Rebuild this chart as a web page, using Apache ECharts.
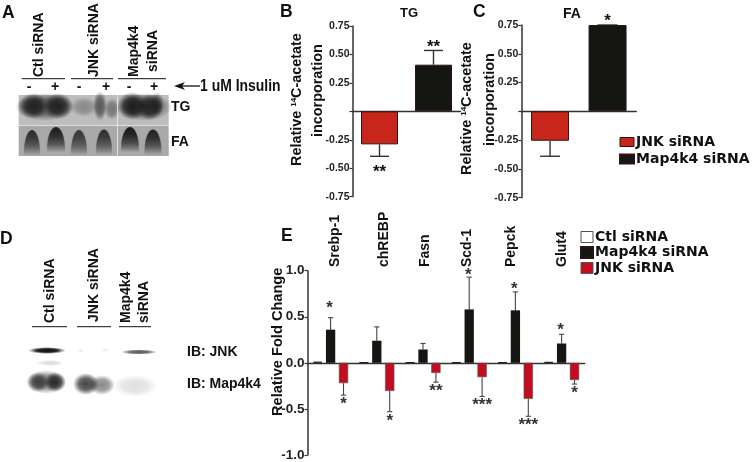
<!DOCTYPE html>
<html><head><meta charset="utf-8">
<style>html,body{margin:0;padding:0;background:#fff}#c{width:752px;height:462px}</style>
<script src="https://cdn.jsdelivr.net/npm/echarts@6/dist/echarts.min.js"></script>
</head><body><div id="c"></div>
<script>
// ---- data ----
const tgGroups = ['JNK siRNA', 'Map4k4 siRNA'];
const tgValues = [-0.29, 0.41];
const tgErrEnds = [-0.395, 0.535];
const tgStars = ['**', '**'];
const tgStarAt = [-0.51, 0.59];
const faGroups = ['JNK siRNA', 'Map4k4 siRNA'];
const faValues = [-0.255, 0.75];
const faErrEnds = [-0.39, 0.75];
const faStars = ['', '*'];
const faStarAt = [0, 0.81];
const genes = ['Srebp-1', 'chREBP', 'Fasn', 'Scd-1', 'Pepck', 'Glut4'];
const ctlValues = [0.012, 0.006, 0.006, 0.006, 0.004, 0.01];
const mapValues = [0.36, 0.24, 0.145, 0.58, 0.57, 0.21];
const mapErrEnds = [0.49, 0.39, 0.21, 0.93, 0.77, 0.31];
const mapStars = ['*', '', '', '*', '*', '*'];
const mapStarAt = [0.635, 0, 0, 0.99, 0.846, 0.4];
const jnkValues = [-0.22, -0.305, -0.11, -0.155, -0.39, -0.186];
const jnkErrEnds = [-0.35, -0.53, -0.21, -0.365, -0.58, -0.23];
const jnkStars = ['*', '*', '**', '***', '***', '*'];
const jnkStarAt = [-0.41, -0.59, -0.265, -0.42, -0.638, -0.283];

const BLACK = '#151512', RED_A = '#c8261b', RED_E = '#c20d20', BORDER = '#2a1512';
const FF = '"Liberation Sans", Arial, sans-serif';
const LEG = '"DejaVu Sans", sans-serif';
const E_BAR = 9.3, E_GAP = 3.6;

function errSeries(xIdx, yIdx, vals, ends, stars, starAt, opt) {
  const data = vals.map((v, i) => [i, v, ends[i], starAt[i], stars[i]]);
  return {
    type: 'custom', name: opt.name, xAxisIndex: xIdx, yAxisIndex: yIdx, silent: true, z: 1,
    data, encode: { x: 0, y: [1, 2, 3] }, clip: false,
    renderItem(params, api) {
      const i = api.value(0);
      const barPt = api.coord([i, api.value(1)]);
      const endPt = api.coord([i, api.value(2)]);
      const x = barPt[0] + opt.dx;
      const ln = { stroke: opt.color, lineWidth: opt.lw, fill: null };
      const children = [
        { type: 'line', shape: { x1: x, y1: barPt[1], x2: x, y2: endPt[1] }, style: ln },
        { type: 'line', shape: { x1: x - opt.cap, y1: endPt[1], x2: x + opt.cap, y2: endPt[1] }, style: ln }
      ];
      const s = stars[params.dataIndex];
      if (s) {
        const st = api.coord([i, api.value(3)]);
        children.push({ type: 'text', x: x + (opt.starDx || 0), y: st[1] + opt.starDy, style: {
          text: s, font: opt.starFont, fill: opt.starColor, align: 'center', verticalAlign: 'middle' } });
      }
      return { type: 'group', children };
    }
  };
}

function singleBar(name, xIdx, yIdx, vals, i, color, w) {
  return { type: 'bar', name, xAxisIndex: xIdx, yAxisIndex: yIdx, barWidth: w, barGap: '-100%',
    silent: true, z: 2,
    data: vals.map((v, k) => k === i ? v : null),
    itemStyle: { color, borderColor: BORDER, borderWidth: 1 } };
}

function yAxis(gridIndex, min, max, interval, fs, fmt) {
  return { type: 'value', gridIndex, min, max, interval, splitLine: { show: false },
    axisLine: { show: true, onZero: false, lineStyle: { color: '#333', width: 1.5 } },
    axisTick: { show: true, length: 3, lineStyle: { color: '#333', width: 1.2 } },
    axisLabel: { fontFamily: FF, fontWeight: 'bold', fontSize: fs, color: '#222', margin: 3, formatter: fmt,
      showMinLabel: true, showMaxLabel: true, hideOverlap: false } };
}
function xAxis(gridIndex, data) {
  return { type: 'category', gridIndex, data,
    axisLine: { show: true, onZero: true, lineStyle: { color: '#333', width: 1.4 } },
    axisTick: { show: false }, axisLabel: { show: false } };
}

// ---- decorations: text & blots ----
const g = [];
function txt(text, x, y, size, opt) {
  opt = opt || {};
  g.push({ type: 'text', x, y, rotation: opt.rot ? Math.PI / 2 : 0, scaleX: opt.sx || 1, silent: true, style: {
    text, fill: opt.color || '#111', align: opt.align || 'left', verticalAlign: 'middle',
    font: `${opt.weight || 'bold'} ${size}px ${opt.family || FF}` } });
}
function rule(x1, x2, y) {
  g.push({ type: 'line', silent: true, shape: { x1, y1: y, x2, y2: y }, style: { stroke: '#111', lineWidth: 1 } });
}
function rect(x, y, w, h, fill) {
  g.push({ type: 'rect', silent: true, shape: { x, y, width: w, height: h }, style: { fill } });
}
function blob(x, y, rx, ry, a) {
  const c = 20;
  g.push({ type: 'circle', silent: true, x, y, scaleX: rx / 10, scaleY: ry / 10, shape: { cx: 0, cy: 0, r: 10 },
    style: { fill: { type: 'radial', x: 0.5, y: 0.5, r: 0.5, colorStops: [
      { offset: 0, color: `rgba(${c},${c},${c},${a})` },
      { offset: 0.55, color: `rgba(${c},${c},${c},${a * 0.8})` },
      { offset: 1, color: `rgba(${c},${c},${c},0)` }] } } });
}
// dome-shaped spot: dark at the top, fading out downward
function dome(x, top, rx, a) {
  const c = 20, ry = 22;
  g.push({ type: 'ellipse', silent: true, shape: { cx: x, cy: top + ry, rx, ry },
    style: { shadowBlur: 2, shadowColor: 'rgba(60,60,60,0.35)', fill: { type: 'linear', x: 0, y: 0, x2: 0, y2: 1, colorStops: [
      { offset: 0, color: `rgba(${c},${c},${c},${a})` },
      { offset: 0.2, color: `rgba(${c},${c},${c},${a * 0.85})` },
      { offset: 0.38, color: `rgba(${c},${c},${c},${a * 0.55})` },
      { offset: 0.58, color: `rgba(${c},${c},${c},0)` },
      { offset: 1, color: `rgba(${c},${c},${c},0)` }] } } });
}
function rich(before, sup, after, x, y, size) {
  const st = { fontSize: size, fontWeight: 'bold', fontFamily: FF, fill: '#111', color: '#111' };
  g.push({ type: 'text', x, y, rotation: Math.PI / 2, silent: true, style: {
    text: `{a|${before}}{s|${sup}}{a|${after}}`, align: 'left', verticalAlign: 'middle', font: `bold ${size}px ${FF}`,
    rich: { a: st, s: { fontSize: 8, fontWeight: 'bold', fontFamily: FF, fill: '#111', verticalAlign: 'top', lineHeight: 12 } } } });
}

// panel letters
[['A', 2, 13], ['B', 280, 12], ['C', 473, 12], ['D', 0, 239], ['E', 281, 236]].forEach(p => txt(p[0], p[1], p[2], 17.5));

// panel A
txt('Ctl siRNA', 39, 77, 14, { rot: 1 });
txt('JNK siRNA', 94, 77, 14, { rot: 1 });
txt('Map4k4', 134, 77, 14, { rot: 1 });
txt('siRNA', 153, 72, 14, { rot: 1 });
rule(21.7, 65, 78.7); rule(71, 113, 78.7); rule(118, 166, 78.7);
[['-', 29], ['+', 55], ['-', 79], ['+', 106], ['-', 129], ['+', 154]].forEach(p => txt(p[0], p[1], 87.5, 14, { align: 'center' }));
g.push({ type: 'line', silent: true, shape: { x1: 178, y1: 86, x2: 200, y2: 86 }, style: { stroke: '#111', lineWidth: 1.3 } });
g.push({ type: 'polygon', silent: true, shape: { points: [[174, 86], [185, 82], [182, 86], [185, 90]] }, style: { fill: '#111' } });
txt('1 uM Insulin', 200, 86, 17, { sx: 0.82 });
rect(18.7, 95, 150, 30.5, '#bdbdbd');
rect(18.7, 126, 150, 30, '#a9a9a9');
[[45, 107, 30, 14, .6], [145, 107, 27, 14, .6], [33, 106, 15, 13, .85], [58, 106, 15, 13, .85], [84, 107, 14, 10, .3], [100, 106, 7, 15, .6], [112, 109, 8, 11, .42],
 [132, 106, 15, 14, .9], [150, 107, 13, 13, .8], [157, 104, 7, 12, .5]
].forEach(b => blob(b[0], b[1], b[2], b[3], b[4]));
[[32, 130, 8, .8], [56, 127, 9, .92], [79, 130, 8, .72], [104, 129.5, 8, .78], [130, 127, 9, .97], [153, 129.5, 8.5, .88]
].forEach(b => dome(b[0], b[1], b[2], b[3]));
rect(117.2, 95, 0.8, 61, '#eee');
rect(18.7, 125.4, 150, 0.7, '#ddd');
txt('TG', 171, 107, 14);
txt('FA', 171, 142, 14);

// panel D
txt('Ctl siRNA', 50, 323, 14, { rot: 1 });
txt('JNK siRNA', 94, 322, 14, { rot: 1 });
txt('Map4k4', 126, 323, 14, { rot: 1 });
txt('siRNA', 144, 323, 14, { rot: 1 });
rule(32, 67, 326.7); rule(77, 111, 326.7); rule(119, 151, 326.7);
blob(47, 350.5, 19, 3.4, 1);
blob(47, 350.5, 15, 2.6, .8);
blob(50, 363, 14, 3, .14);
blob(139, 352, 18, 2.6, .72);
blob(81, 351, 3, 2, .1);
blob(105, 350, 4, 2, .07);
blob(46, 382, 20, 12, .5);
blob(38, 382, 11, 10, .7);
blob(55, 382, 11, 10, .85);
blob(86, 384, 13, 11, .8);
blob(102, 385, 13, 10, .5);
blob(135, 386, 22, 11, .13);
txt('IB: JNK', 187, 352, 14);
txt('IB: Map4k4', 187, 384, 14);

// axis titles
rich('Relative ', '14', 'C-acetate', 297, 166, 14.4);
txt('incorporation', 318, 137, 14.4, { rot: 1 });
rich('Relative ', '14', 'C-acetate', 467, 175, 14.4);
txt('incorporation', 490, 146, 14.4, { rot: 1 });
txt('TG', 409, 13, 13, { align: 'center' });
txt('FA', 572, 14, 14, { align: 'center' });
txt('Relative Fold Change', 278, 416, 14.6, { rot: 1 });

// gene labels
const geneLabelX = [335, 384, 425, 467, 511, 562];
genes.forEach((name, i) => txt(name, geneLabelX[i], 267, 14, { rot: 1 }));

const dxRed = E_BAR + E_GAP;
const eStar = `bold 17px ${FF}`;
const abStar = `bold 17px ${FF}`;
const option = {
  animation: false,
  backgroundColor: '#fff',
  grid: [
    { left: 352.5, top: 26, width: 108, height: 170.7, containLabel: false },
    { left: 521.3, top: 25, width: 115, height: 172.7 },
    { left: 307.5, top: 270.7, width: 277.2, height: 186 }
  ],
  xAxis: [xAxis(0, tgGroups), xAxis(1, faGroups), xAxis(2, genes)],
  yAxis: [
    yAxis(0, -0.75, 0.75, 0.25, 10.5, v => Math.abs(v) < 1e-9 ? '' : v.toFixed(2)),
    yAxis(1, -0.75, 0.75, 0.25, 10.5, v => Math.abs(v) < 1e-9 ? '' : v.toFixed(2)),
    yAxis(2, -1, 1, 0.5, 13.5, v => v.toFixed(1))
  ],
  legend: [
    { left: 619, top: 135, orient: 'vertical', itemWidth: 14, itemHeight: 9, itemGap: 3, padding: 0, selectedMode: false, icon: 'rect',
      textStyle: { fontFamily: LEG, fontWeight: 'bold', fontSize: 14, color: '#111', padding: [0, 0, 0, -3] },
      data: [{ name: 'JNK siRNA', itemStyle: { color: RED_A, borderColor: BORDER, borderWidth: 1 } },
             { name: 'Map4k4 siRNA', itemStyle: { color: BLACK } }] },
    { left: 580, top: 230, orient: 'vertical', itemWidth: 12, itemHeight: 11, itemGap: 1.5, padding: 0, selectedMode: false, icon: 'rect',
      textStyle: { fontFamily: LEG, fontWeight: 'bold', fontSize: 14, color: '#111', padding: [0, 0, 0, -3] },
      data: [{ name: 'Ctl siRNA', itemStyle: { color: '#fff', borderColor: '#555', borderWidth: 1 } },
             { name: 'Map4k4 siRNA', itemStyle: { color: BLACK } },
             { name: 'JNK siRNA', itemStyle: { color: RED_E, borderColor: '#555', borderWidth: 1 } }] }
  ],
  series: [
    singleBar('JNK siRNA', 0, 0, tgValues, 0, RED_A, 37),
    singleBar('Map4k4 siRNA', 0, 0, tgValues, 1, BLACK, 37),
    errSeries(0, 0, tgValues, tgErrEnds, tgStars, tgStarAt, { name: 'TG error', dx: 0, cap: 9.5, lw: 1.4, color: '#333', starFont: abStar, starColor: '#111', starDy: 3 }),
    singleBar('JNK siRNA', 1, 1, faValues, 0, RED_A, 38),
    singleBar('Map4k4 siRNA', 1, 1, faValues, 1, BLACK, 38),
    errSeries(1, 1, faValues, faErrEnds, faStars, faStarAt, { name: 'FA error', dx: 0, cap: 10, lw: 1.4, color: '#333', starFont: abStar, starColor: '#111', starDy: 3 }),
    { type: 'bar', name: 'Ctl siRNA', xAxisIndex: 2, yAxisIndex: 2, barWidth: E_BAR, barGap: (E_GAP / E_BAR * 100) + '%', silent: true, data: ctlValues,
      itemStyle: { color: '#fff', borderColor: '#222', borderWidth: 1 } },
    { type: 'bar', name: 'Map4k4 siRNA', xAxisIndex: 2, yAxisIndex: 2, barWidth: E_BAR, barGap: (E_GAP / E_BAR * 100) + '%', silent: true, data: mapValues,
      itemStyle: { color: BLACK } },
    { type: 'bar', name: 'JNK siRNA', xAxisIndex: 2, yAxisIndex: 2, barWidth: E_BAR, barGap: (E_GAP / E_BAR * 100) + '%', silent: true, data: jnkValues,
      itemStyle: { color: RED_E, borderColor: '#555', borderWidth: 0.6 } },
    errSeries(2, 2, mapValues, mapErrEnds, mapStars, mapStarAt, { name: 'Map4k4 error', dx: 0, cap: 2.6, lw: 1.1, color: '#444', starFont: eStar, starColor: '#333', starDy: 4, starDx: -1 }),
    errSeries(2, 2, jnkValues, jnkErrEnds, jnkStars, jnkStarAt, { name: 'JNK error', dx: dxRed, cap: 2.6, lw: 1.1, color: '#444', starFont: eStar, starColor: '#333', starDy: 4 })
  ],
  graphic: g
};
echarts.init(document.getElementById('c'), null, { renderer: 'canvas' }).setOption(option);
</script></body></html>
